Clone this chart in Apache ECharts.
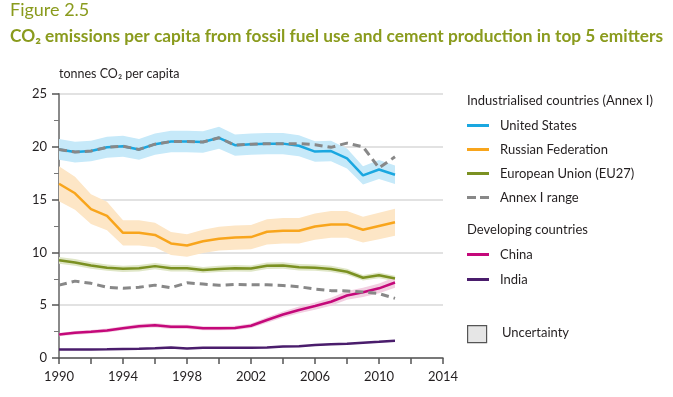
<!DOCTYPE html>
<html><head><meta charset="utf-8">
<script src="https://cdn.jsdelivr.net/npm/echarts@6/dist/echarts.min.js"></script>
<style>html,body{margin:0;padding:0;background:#fff}#c{width:673px;height:397px}</style>
</head><body><div id="c"></div>
<script>
const years = [1990,1991,1992,1993,1994,1995,1996,1997,1998,1999,2000,2001,2002,2003,2004,2005,2006,2007,2008,2009,2010,2011];
const us     = [19.75,19.5,19.6,19.95,20.05,19.75,20.25,20.5,20.5,20.45,20.85,20.15,20.25,20.3,20.3,20.1,19.55,19.6,18.9,17.3,17.85,17.35];
const russia = [16.5,15.6,14.1,13.45,11.85,11.85,11.65,10.85,10.65,11.05,11.3,11.4,11.45,11.95,12.05,12.05,12.45,12.65,12.65,12.15,12.5,12.85];
const eu     = [9.25,9.05,8.75,8.55,8.45,8.5,8.7,8.5,8.5,8.33,8.43,8.5,8.47,8.74,8.77,8.59,8.55,8.43,8.17,7.6,7.83,7.52];
const annexHigh = [19.75,19.5,19.6,19.95,20.05,19.75,20.25,20.5,20.5,20.45,20.85,20.15,20.25,20.3,20.3,20.3,20.2,19.95,20.35,20.0,18.0,19.05];
const annexLow  = [6.9,7.28,7.07,6.7,6.6,6.7,6.9,6.66,7.12,7.0,6.88,6.97,6.94,6.93,6.87,6.75,6.53,6.38,6.35,6.25,6.1,5.65];
const china  = [2.22,2.38,2.48,2.6,2.82,3.0,3.1,2.95,2.95,2.82,2.82,2.85,3.05,3.6,4.12,4.55,4.92,5.33,5.92,6.22,6.6,7.15];
const india  = [0.8,0.8,0.8,0.82,0.86,0.88,0.92,1.0,0.9,0.97,0.98,0.98,0.98,1.0,1.08,1.12,1.22,1.3,1.34,1.44,1.53,1.63];
const uncertaintyPct = {us:0.05, russia:0.10, eu:0.035, china:0.07, india:0.05};
const xTicks = [1990,1994,1998,2002,2006,2010,2014];
const yTicks = [0,5,10,15,20,25];

const pairs = arr => years.map((y,i)=>[y,arr[i]]);
function band(key, arr, color){
  const p = uncertaintyPct[key];
  const data = years.map((y,i)=>[y, arr[i]*(1-p), arr[i]*(1+p)]);
  return {type:'custom', name:key+'_band', silent:true, z:1, data:data,
    encode:{x:0, y:[1,2]},
    renderItem:function(params, api){
      if (params.dataIndex !== 0) return null;
      const up = data.map(d=>api.coord([d[0], d[2]]));
      const lo = data.map(d=>api.coord([d[0], d[1]])).reverse();
      return {type:'polygon', shape:{points: up.concat(lo)}, style:{fill:color, stroke:null}};
    }};
}
const solidIcon = 'path://M0,0h22v3h-22z';
const dashIcon = 'path://M0,0h9v3h-9z M13,0h9v3h-9z';
const chart = echarts.init(document.getElementById('c'), null, {renderer:'canvas'});
const FONT = 'Lato, "Open Sans", sans-serif';
const textCol = '#231f20';
const olive = '#8a9b1d';
const option = {
  animation:false,
  textStyle:{fontFamily:FONT},
  grid:{left:59, top:94, width:384, height:264, containLabel:false},
  xAxis:{type:'value', min:1990, max:2014, interval:4,
    axisLine:{show:true, onZero:false, lineStyle:{color:'#555', width:1.5}},
    axisTick:{show:true, length:6, lineStyle:{color:'#555', width:1.5}},
    minorTick:{show:true, splitNumber:2, length:6, lineStyle:{color:'#555', width:1.5}},
    axisLabel:{color:textCol, fontSize:13, margin:12, fontFamily:FONT,
      formatter:v=> xTicks.includes(v)? String(v):''},
    splitLine:{show:false}},
  yAxis:{type:'value', min:0, max:25, interval:5,
    name:'tonnes CO\u2082 per capita', nameLocation:'end', nameGap:14,
    nameTextStyle:{color:textCol, fontSize:12.5, align:'left', padding:[0,0,0,0], fontFamily:FONT},
    axisLine:{show:true, lineStyle:{color:'#8a8a8a', width:2}},
    axisTick:{show:true, length:7, lineStyle:{color:'#555', width:1.5}},
    minorTick:{show:true, splitNumber:2, length:5, lineStyle:{color:'#777', width:1}},
    axisLabel:{color:textCol, fontSize:13, margin:12, fontFamily:FONT,
      formatter:v=> yTicks.includes(v)? String(v):''},
    splitLine:{show:true, lineStyle:{color:'#d9d9d9', width:1.5}}},
  legend:[
    {orient:'vertical', left:462, top:114, itemWidth:22, itemHeight:3, itemGap:11,
     textStyle:{color:textCol, fontSize:13, padding:[0,0,0,6], fontFamily:FONT},
     data:[{name:'United States', icon:solidIcon},{name:'Russian Federation', icon:solidIcon},
           {name:'European Union (EU27)', icon:solidIcon},{name:'Annex I range', icon:dashIcon}], selectedMode:false},
    {orient:'vertical', left:462, top:243, itemWidth:22, itemHeight:3, itemGap:12,
     textStyle:{color:textCol, fontSize:13, padding:[0,0,0,6], fontFamily:FONT},
     data:[{name:'China', icon:solidIcon},{name:'India', icon:solidIcon}], selectedMode:false}
  ],
  graphic:[
    {type:'text', left:10, top:1, style:{text:'Figure 2.5', fill:olive, font:'18px '+FONT}},
    {type:'text', left:10, top:28, style:{text:'CO\u2082 emissions per capita from fossil fuel use and cement production in top 5 emitters', fill:olive, font:'bold 17.3px '+FONT}},
    {type:'text', left:467, top:94, style:{text:'Industrialised countries (Annex I)', fill:textCol, font:'13px '+FONT}},
    {type:'text', left:467, top:223, style:{text:'Developing countries', fill:textCol, font:'13px '+FONT}},
    {type:'rect', left:467, top:325, shape:{width:19, height:17}, style:{fill:'#e6e6e6', stroke:'#555', lineWidth:1.2}},
    {type:'text', left:502, top:326, style:{text:'Uncertainty', fill:textCol, font:'13px '+FONT}}
  ],
  series:[
    band('us', us, '#c6e9f9'),
    band('russia', russia, '#fde6c6'),
    band('eu', eu, '#dfe6c6'),
    band('china', china, '#f2cfe1'),
    band('india', india, '#e2d5ea'),
    {type:'line', name:'United States', data:pairs(us), symbol:'none', z:3, color:'#1aa7e0', lineStyle:{width:2.5, color:'#1aa7e0'}},
    {type:'line', name:'Russian Federation', data:pairs(russia), symbol:'none', z:3, color:'#f8a51c', lineStyle:{width:2.5, color:'#f8a51c'}},
    {type:'line', name:'European Union (EU27)', data:pairs(eu), symbol:'none', z:3, color:'#7b9122', lineStyle:{width:2.5, color:'#7b9122'}},
    {type:'line', name:'Annex I range', data:pairs(annexHigh), symbol:'none', z:4, color:'#888888', lineStyle:{width:3, color:'#888888', type:[8,5]}},
    {type:'line', name:'Annex I range', data:pairs(annexLow), symbol:'none', z:4, color:'#888888', lineStyle:{width:3, color:'#888888', type:[8,5]}},
    {type:'line', name:'China', data:pairs(china), symbol:'none', z:3, color:'#c4087a', lineStyle:{width:2.5, color:'#c4087a'}},
    {type:'line', name:'India', data:pairs(india), symbol:'none', z:3, color:'#4a1d6c', lineStyle:{width:2.5, color:'#4a1d6c'}}
  ]
};
chart.setOption(option);
</script></body></html>
